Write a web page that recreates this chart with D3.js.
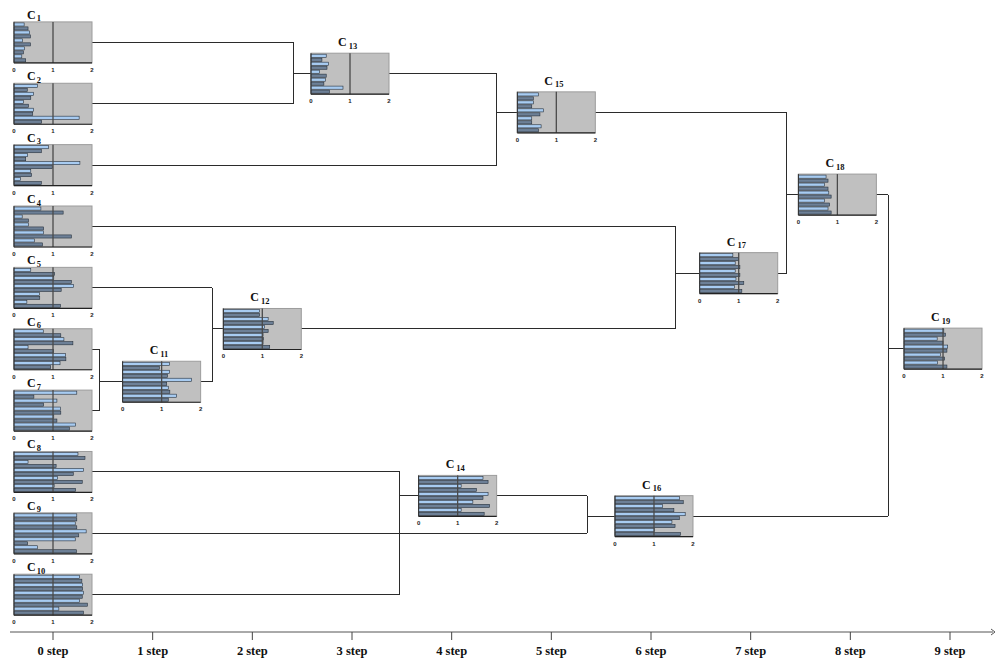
<!DOCTYPE html>
<html><head><meta charset="utf-8">
<script src="https://cdn.jsdelivr.net/npm/d3@7"></script>
<style>body{margin:0;background:#fff;overflow:hidden}</style>
</head><body>
<svg id="chart" width="997" height="658"></svg>
<script>
// ---- data ----
const stepTicks = [0,1,2,3,4,5,6,7,8,9];
const stepLabels = ["0 step","1 step","2 step","3 step","4 step","5 step","6 step","7 step","8 step","9 step"];
const miniTicks = [0,1,2];
const nodeNames = ["1","2","3","4","5","6","7","8","9","10","11","12","13","14","15","16","17","18","19"];

const c1  = [0.26,0.36,0.40,0.42,0.22,0.42,0.27,0.24,0.20,0.30];
const c2  = [0.60,0.34,0.50,0.43,0.24,0.37,0.50,0.48,1.67,0.71];
const c3  = [0.88,0.70,0.35,0.30,1.69,0.98,0.43,0.45,0.17,0.70];
const c4  = [0.69,1.26,0.21,0.37,0.37,0.76,0.76,1.47,0.52,0.73];
const c5  = [0.43,1.04,1.02,1.47,1.53,1.21,0.65,0.66,0.33,1.19];
const c6  = [0.75,1.20,1.28,1.51,0.36,1.01,1.32,1.33,1.18,0.94];
const c7  = [1.61,0.51,1.10,0.76,1.19,1.20,1.02,1.10,1.58,1.42];
const c8  = [1.64,1.82,0.36,1.08,1.78,1.52,1.12,1.75,1.03,1.58];
const c9  = [1.61,1.61,1.57,1.61,1.85,1.66,1.57,0.35,0.60,1.60];
const c10 = [1.68,1.74,1.76,1.76,1.78,1.75,1.68,1.88,1.15,1.78];
const c11 = [1.20,0.94,1.20,1.15,1.77,1.13,1.17,1.21,1.38,1.17];
const c12 = [0.93,0.93,1.15,1.28,1.06,1.15,1.02,1.03,1.02,1.19];
const c13 = [0.39,0.28,0.45,0.41,0.22,0.39,0.37,0.33,0.82,0.47];
const c14 = [1.65,1.78,1.09,1.48,1.78,1.65,1.39,1.82,1.09,1.68];
const c15 = [0.54,0.41,0.41,0.37,0.67,0.58,0.37,0.37,0.61,0.54];
const c16 = [1.65,1.75,1.22,1.51,1.80,1.65,1.46,1.54,1.01,1.68];
const c17 = [0.85,0.99,0.91,1.03,0.91,1.03,0.93,1.13,0.89,1.08];
const c18 = [0.71,0.76,0.67,0.76,0.78,0.84,0.67,0.80,0.76,0.84];
const c19 = [1.02,1.06,0.85,1.00,1.12,1.10,0.93,1.04,0.86,1.10];
const barValues = [c1,c2,c3,c4,c5,c6,c7,c8,c9,c10,c11,c12,c13,c14,c15,c16,c17,c18,c19];

// step (x) and row (y) of each cluster node, in axis units
const nodeStep = [0,0,0,0,0,0,0,0,0,0,1.09,2.10,2.98,4.06,5.05,6.03,6.88,7.87,8.93];
const nodeRow  = [0,1,2,3,4,5,6,7,8,9,5.53,4.67,0.51,7.39,1.14,7.72,3.76,2.48,4.99];

// merges: parent <- children, joined at step
const mergeParent   = [11,12,13,14,15,16,17,18,19];
const mergeChildren = [[6,7],[5,11],[1,2],[8,10],[13,3],[14,9],[4,12],[15,17],[18,16]];
const joinStep      = [0.47,1.60,2.41,3.48,4.45,5.36,6.25,7.36,8.38];

// ---- drawing ----
const svg = d3.select("#chart");
const x = d3.scaleLinear().domain([0,9]).range([53,950]);
const y = d3.scaleLinear().domain([0,9]).range([42.4,594.7]);
const boxW = 78, boxH = 41;
const v = d3.scaleLinear().domain([0,2]).range([-boxW/2, boxW/2]);
const band = d3.scaleBand().domain(d3.range(10)).range([-boxH/2, boxH/2]).paddingInner(0.22).paddingOuter(0.25);

const cx = i => x(nodeStep[i]);
const cy = i => y(nodeRow[i]);

// connectors
const lines = svg.append("g").attr("stroke","#2b2b2b").attr("stroke-width",1).attr("fill","none").attr("shape-rendering","crispEdges");
mergeParent.forEach((p,k) => {
  const pi = p-1;
  const jx = x(joinStep[k]);
  const ys = [];
  mergeChildren[k].forEach(c => {
    const ci = c-1;
    lines.append("line").attr("x1", cx(ci)+boxW/2).attr("x2", jx).attr("y1", cy(ci)).attr("y2", cy(ci));
    ys.push(cy(ci));
  });
  ys.push(cy(pi));
  lines.append("line").attr("x1", jx).attr("x2", jx).attr("y1", d3.min(ys)).attr("y2", d3.max(ys));
  lines.append("line").attr("x1", jx).attr("x2", cx(pi)-boxW/2).attr("y1", cy(pi)).attr("y2", cy(pi));
});

// mini charts
const nodes = svg.append("g").selectAll("g.node").data(d3.range(19)).join("g")
  .attr("class","node")
  .attr("transform", i => `translate(${cx(i)},${cy(i)})`);

nodes.append("rect").attr("x", v(0)).attr("y", -boxH/2).attr("width", boxW).attr("height", boxH)
  .attr("fill","#c0c0c0").attr("stroke","#9c9c9c").attr("stroke-width",1);

nodes.selectAll("rect.bar").data(i => barValues[i]).join("rect").attr("class","bar")
  .attr("x", v(0)).attr("y", (d,j) => band(j)).attr("height", band.bandwidth())
  .attr("width", d => v(d)-v(0))
  .attr("fill", (d,j) => j%2 ? "#6d8097" : "#a8ccf2")
  .attr("stroke","#26303c").attr("stroke-width",0.6);

nodes.append("line").attr("x1", v(1)).attr("x2", v(1)).attr("y1", -boxH/2).attr("y2", boxH/2)
  .attr("stroke","#4a4a4a").attr("stroke-width",1.3);
nodes.append("line").attr("x1", v(0)).attr("x2", v(0)).attr("y1", -boxH/2).attr("y2", boxH/2)
  .attr("stroke","#333").attr("stroke-width",1);
nodes.append("line").attr("x1", v(0)).attr("x2", v(2)).attr("y1", boxH/2).attr("y2", boxH/2)
  .attr("stroke","#222").attr("stroke-width",1.2);

nodes.selectAll("text.mt").data(miniTicks).join("text").attr("class","mt")
  .attr("x", d => v(d)).attr("y", boxH/2 + 9).attr("text-anchor","middle")
  .attr("font-family","Liberation Sans, Arial, sans-serif").attr("font-size",6).attr("font-weight","bold")
  .attr("fill","#222").text(d => d);

const lab = nodes.append("text")
  .attr("x", i => i < 10 ? -26 : -12)
  .attr("y", i => i < 10 ? -boxH/2 - 3 : -boxH/2 - 7)
  .attr("font-family","Liberation Serif, Times New Roman, serif").attr("font-weight","bold")
  .attr("fill","#111");
lab.append("tspan").attr("font-size",12).text("C");
lab.append("tspan").attr("font-size",8.5).attr("dx", i => i < 10 ? 1 : 2).attr("dy",2.5).text(i => nodeNames[i]);

// bottom axis
const axisY = 632;
const ax = svg.append("g");
ax.append("line").attr("x1",10).attr("x2",993).attr("y1",axisY).attr("y2",axisY).attr("stroke","#555").attr("stroke-width",1);
ax.append("path").attr("d",`M991,${axisY-3}L995,${axisY}L991,${axisY+3}`).attr("fill","none").attr("stroke","#555");
ax.selectAll("line.tk").data(stepTicks).join("line").attr("class","tk")
  .attr("x1", d => x(d)).attr("x2", d => x(d)).attr("y1", axisY).attr("y2", axisY+8)
  .attr("stroke","#444").attr("stroke-width",1);
ax.selectAll("text.sl").data(stepTicks).join("text").attr("class","sl")
  .attr("x", d => x(d)).attr("y", 655).attr("text-anchor","middle")
  .attr("font-family","Liberation Serif, Times New Roman, serif").attr("font-weight","bold").attr("font-size",12.5)
  .attr("fill","#111").text((d,i) => stepLabels[i]);
</script>
</body></html>
